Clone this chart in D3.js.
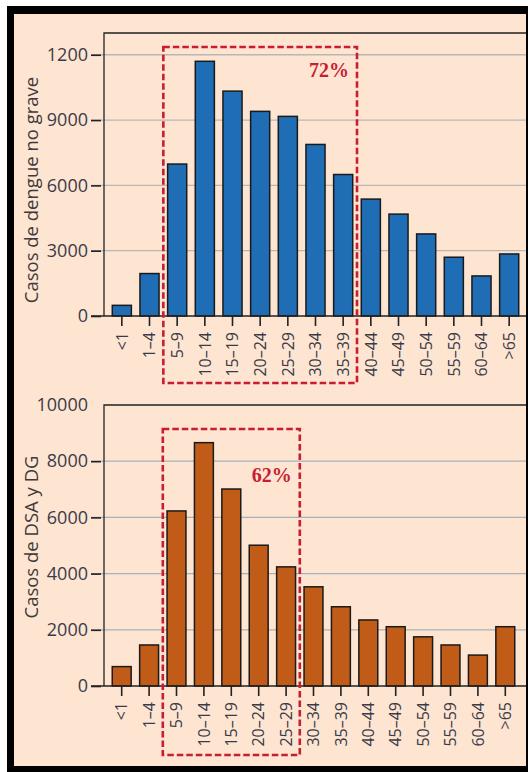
<!DOCTYPE html>
<html>
<head>
<meta charset="utf-8">
<script src="https://cdn.jsdelivr.net/npm/d3@7"></script>
<style>
  body { margin: 0; background: #fff; }
  text { font-family: "Open Sans", sans-serif; }
</style>
</head>
<body>
<div id="chart"></div>
<script>
// age groups shared by both panels
const ageGroups = ["<1", "1–4", "5–9", "10–14", "15–19", "20–24", "25–29", "30–34",
  "35–39", "40–44", "45–49", "50–54", "55–59", "60–64", ">65"];

// top panel: non severe dengue
const noGraveCases = [490, 1950, 6980, 11700, 10330, 9400, 9170, 7880, 6500, 5370, 4680, 3770, 2700, 1840, 2850];
const noGraveTicks = [0, 3000, 6000, 9000, 12000];
const noGraveTickLabels = ["0", "3000", "6000", "9000", "1200"];

// bottom panel: DSA and DG
const dsaCases = [690, 1460, 6230, 8660, 7010, 5010, 4240, 3530, 2820, 2350, 2110, 1750, 1460, 1100, 2110];
const dsaTicks = [0, 2000, 4000, 6000, 8000, 10000];
const dsaTickLabels = ["0", "2000", "4000", "6000", "8000", "10000"];

const W = 528, H = 772;
const svg = d3.select("#chart").append("svg")
  .attr("width", W)
  .attr("height", H);

// black frame with cream paper
svg.append("rect").attr("x", 7).attr("y", 6).attr("width", W - 7).attr("height", H - 6).attr("fill", "#000");
svg.append("rect").attr("x", 14).attr("y", 14).attr("width", 512).attr("height", 752).attr("fill", "#fde5d2");

function drawPanel(p) {
  const left = 104, right = 526;
  const g = svg.append("g");

  const x = d3.scaleBand()
    .domain(ageGroups)
    .range(p.xRange)
    .paddingInner(0.31)
    .paddingOuter(0.155);

  const y = d3.scaleLinear()
    .domain([0, p.yMax])
    .range([p.bottom, p.top]);

  // gridlines
  g.selectAll(".grid")
    .data(p.ticks.filter(d => d > 0 && d < p.yMax))
    .enter().append("line")
      .attr("x1", left - 13).attr("x2", right)
      .attr("y1", d => y(d)).attr("y2", d => y(d))
      .attr("stroke", p.gridColor)
      .attr("stroke-width", 1.3);

  // plot box (top + left)
  g.append("path")
    .attr("d", `M${right},${p.top}H${left}V${p.bottom}`)
    .attr("fill", "none")
    .attr("stroke", "#222")
    .attr("stroke-width", 1.3);

  // bars
  g.selectAll(".bar")
    .data(p.values)
    .enter().append("rect")
      .attr("x", (d, i) => x(ageGroups[i]))
      .attr("y", d => y(d))
      .attr("width", x.bandwidth())
      .attr("height", d => y(0) - y(d))
      .attr("fill", p.color)
      .attr("stroke", "#1a1a1a")
      .attr("stroke-width", 1.5);

  // y axis
  const yAxis = g.append("g")
    .attr("transform", `translate(${left - 3},0)`)
    .call(d3.axisLeft(y)
      .tickValues(p.ticks)
      .tickSize(10)
      .tickPadding(3)
      .tickFormat((d, i) => p.tickLabels[i]));
  yAxis.select(".domain").remove();
  yAxis.selectAll(".tick line").attr("stroke", "#222").attr("stroke-width", 1.6)
    .attr("opacity", d => (d === p.yMax ? 0 : 1));
  yAxis.selectAll(".tick text")
    .attr("fill", "#3b3b48")
    .style("font-size", "18px")
    .style("font-family", "'Open Sans', sans-serif");

  // x axis
  const xAxis = g.append("g")
    .attr("transform", `translate(0,${y(0)})`)
    .call(d3.axisBottom(x).tickSize(10));
  xAxis.select(".domain").remove();
  xAxis.selectAll(".tick line").attr("stroke", "#222").attr("stroke-width", 1.6);
  xAxis.selectAll(".tick text")
    .attr("transform", "rotate(-90)")
    .attr("x", -16)
    .attr("y", 0)
    .attr("dy", "0.36em")
    .attr("fill", "#3b3b48")
    .style("text-anchor", "end")
    .style("font-size", "16px")
    .style("font-family", "'Open Sans', sans-serif");

  // baseline
  g.append("line")
    .attr("x1", left - 13).attr("x2", right)
    .attr("y1", y(0)).attr("y2", y(0))
    .attr("stroke", "#222")
    .attr("stroke-width", 1.6);

  // y title
  g.append("text")
    .attr("transform", `translate(38,${p.titleY}) rotate(-90)`)
    .attr("text-anchor", "middle")
    .attr("fill", "#3f3a3a")
    .style("font-size", "18.5px")
    .text(p.title);

  // dashed highlight box
  const step = x.step(), gap = step - x.bandwidth();
  const bx0 = x(p.boxFrom) - gap / 2;
  const bx1 = x(p.boxTo) + x.bandwidth() + gap / 2;
  g.append("rect")
    .attr("x", bx0)
    .attr("y", p.boxTop)
    .attr("width", bx1 - bx0)
    .attr("height", p.boxBottom - p.boxTop)
    .attr("fill", "none")
    .attr("stroke", "#c81d32")
    .attr("stroke-width", 2.6)
    .attr("stroke-dasharray", "6.5,3");

  g.append("text")
    .attr("x", bx1 - 8)
    .attr("y", p.pctY)
    .attr("text-anchor", "end")
    .attr("fill", "#c81d32")
    .style("font-family", "'Liberation Serif', serif")
    .style("font-weight", "bold")
    .style("font-size", "20px")
    .text(p.pct);
}

drawPanel({
  values: noGraveCases,
  ticks: noGraveTicks,
  tickLabels: noGraveTickLabels,
  yMax: 13000,
  top: 33, bottom: 316,
  xRange: [108, 523],
  color: "#1f6db4",
  gridColor: "#b9b6b3",
  title: "Casos de dengue no grave",
  titleY: 190,
  boxFrom: "5–9", boxTo: "35–39",
  boxTop: 47, boxBottom: 383,
  pct: "72%", pctY: 77
});

drawPanel({
  values: dsaCases,
  ticks: dsaTicks,
  tickLabels: dsaTickLabels,
  yMax: 10000,
  top: 405, bottom: 686,
  xRange: [108, 519],
  color: "#c05c18",
  gridColor: "#a9b1b8",
  title: "Casos de DSA y DG",
  titleY: 537,
  boxFrom: "5–9", boxTo: "25–29",
  boxTop: 429, boxBottom: 755,
  pct: "62%", pctY: 482
});
</script>
</body>
</html>
